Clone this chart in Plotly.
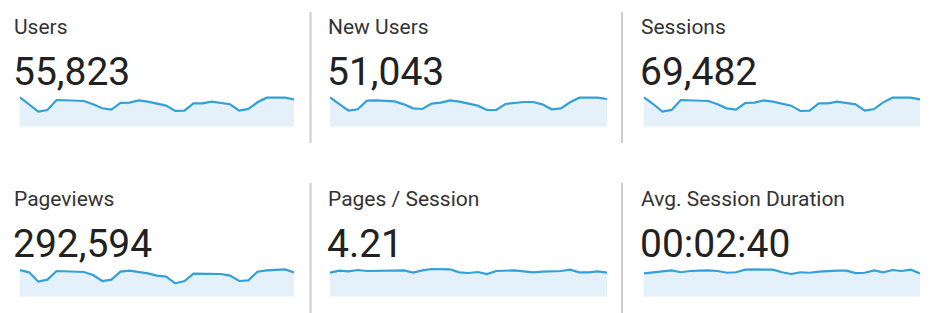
import plotly.graph_objects as go

W, H = 935, 313

titles = ["Users", "New Users", "Sessions", "Pageviews", "Pages / Session", "Avg. Session Duration"]
totals = ["55,823", "51,043", "69,482", "292,594", "4.21", "00:02:40"]

days = list(range(1, 32))

users = [2205,1700,1130,1250,2000,1980,1950,1925,1680,1380,1275,1780,1800,1975,1880,1725,
         1580,1180,1200,1750,1755,1875,1805,1680,1200,1330,1830,2175,2180,2178,2050]
new_users = [2056,1589,1122,1216,1822,1846,1799,1776,1566,1286,1239,1612,1682,1846,1752,1636,
             1472,1169,1169,1589,1659,1729,1729,1566,1216,1286,1706,2032,2032,2032,1939]
sessions = [2850,2200,1460,1625,2590,2560,2520,2495,2170,1780,1650,2300,2330,2555,2430,2235,
            2040,1525,1555,2265,2270,2430,2330,2170,1555,1715,2365,2815,2820,2818,2655]
pageviews = [11214,10235,6313,7153,10794,10655,10513,10374,9114,6594,7153,10513,10933,10513,9815,8833,
             8413,5615,6594,9673,9534,9534,9534,8833,6594,6875,10513,11075,11214,11495,10235]
pages_per_session = [3.98,4.31,4.20,4.42,4.26,4.26,4.31,4.37,4.37,3.98,4.37,4.59,4.59,4.54,4.04,3.93,
                     4.09,3.76,4.26,4.37,4.37,4.20,4.04,4.15,4.15,4.26,4.48,4.04,4.04,4.20,3.98]
avg_duration_sec = [147,154,158,166,154,162,164,166,162,151,154,170,172,172,170,154,
                    143,154,151,158,162,164,164,149,151,166,154,168,162,170,147]

series = [users, new_users, sessions, pageviews, pages_per_session, avg_duration_sec]
y_max = [2600, 2429, 3366, 14574, 5.75, 218.6]

LINE = "#33a0d8"
FILL = "#e4f1fa"

# layout geometry (pixels)
col_text_x = [12, 326, 639]
col_spark = [(20, 294), (330, 607), (644, 920)]
row_spark = [(92, 126.7), (262, 296.7)]
row_title_y = [13, 185]
row_num_y = [46.5, 218.5]

fig = go.Figure()
layout = dict(width=W, height=H, margin=dict(l=0, r=0, t=0, b=0),
              paper_bgcolor="white", plot_bgcolor="white", showlegend=False)
annotations = []
shapes = []

for i in range(6):
    r, c = divmod(i, 3)
    n = i + 1
    xa = "x" if n == 1 else f"x{n}"
    ya = "y" if n == 1 else f"y{n}"
    fig.add_trace(go.Scatter(x=days, y=series[i], mode="lines", fill="tozeroy",
                             line=dict(color=LINE, width=2.2), fillcolor=FILL,
                             xaxis=xa, yaxis=ya, hoverinfo="skip"))
    x0, x1 = col_spark[c]
    ytop, ybot = row_spark[r]
    layout["xaxis" if n == 1 else f"xaxis{n}"] = dict(
        domain=[x0 / W, x1 / W], range=[1, 31], visible=False, fixedrange=True)
    layout["yaxis" if n == 1 else f"yaxis{n}"] = dict(
        domain=[1 - ybot / H, 1 - ytop / H], range=[0, y_max[i]], visible=False, fixedrange=True)
    annotations.append(dict(text=titles[i], x=col_text_x[c] / W, y=1 - row_title_y[r] / H,
                            xref="paper", yref="paper", xanchor="left", yanchor="top",
                            showarrow=False, font=dict(family="Roboto", size=21, color="#333333")))
    annotations.append(dict(text=totals[i], x=(col_text_x[c] - 1) / W, y=1 - row_num_y[r] / H,
                            xref="paper", yref="paper", xanchor="left", yanchor="top",
                            showarrow=False, font=dict(family="Roboto", size=39, color="#212121")))

for r, (y0, y1) in enumerate([(12, 143), (183, 313)]):
    for xd in (310.5, 622):
        shapes.append(dict(type="line", xref="paper", yref="paper",
                           x0=xd / W, x1=xd / W, y0=1 - y0 / H, y1=1 - y1 / H,
                           line=dict(color="#cccccc", width=2)))

layout["annotations"] = annotations
layout["shapes"] = shapes
fig.update_layout(**layout)
fig.write_html("out.html", config={"displayModeBar": False})
